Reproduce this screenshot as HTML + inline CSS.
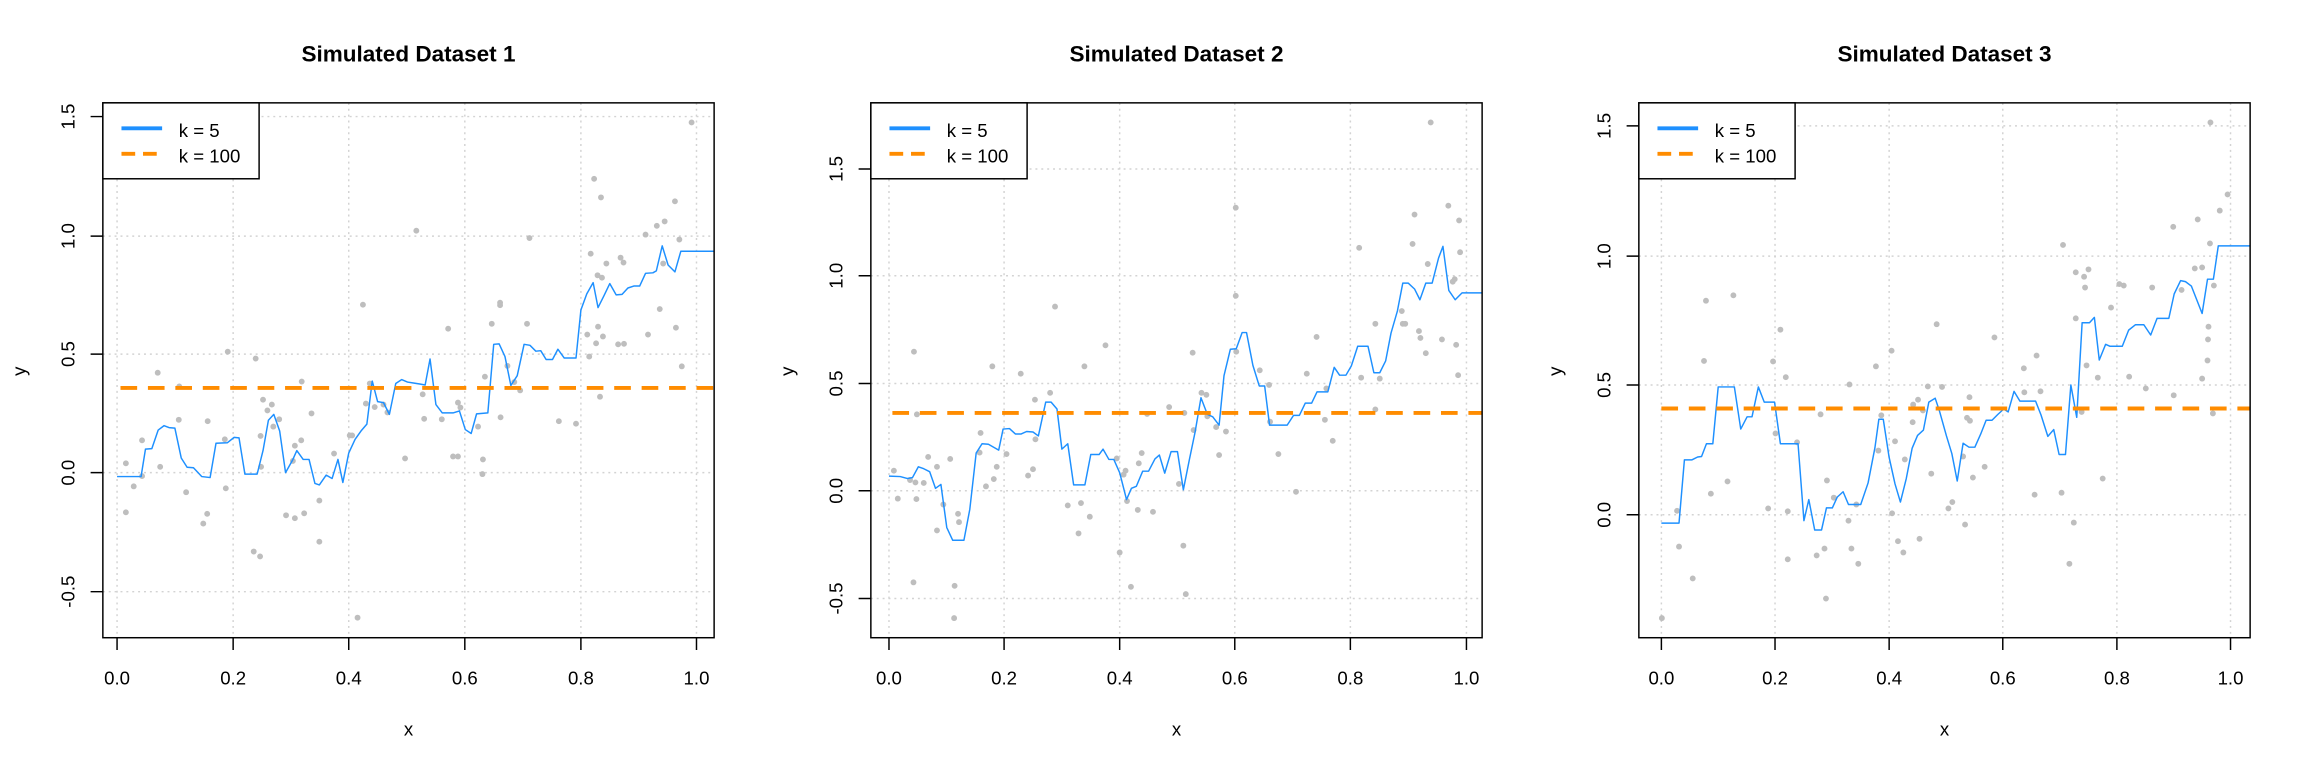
<!DOCTYPE html>
<html><head><meta charset="utf-8"><style>
html,body{margin:0;padding:0;background:#fff;width:2304px;height:768px;overflow:hidden}
svg{position:absolute;top:0}
text{font-family:"Liberation Sans",Arial,sans-serif;fill:#000}
.t{font-size:46px;font-weight:bold}
.k{font-size:38px}
.g{stroke:#d3d3d3;stroke-width:3;stroke-dasharray:4 8;fill:none}
.p{stroke:#bebebe;stroke-width:12;stroke-linecap:round;fill:none}
.b{stroke:#1e90ff;stroke-width:3;fill:none;stroke-linejoin:round}
.o{stroke:#ff8c00;stroke-width:8;stroke-dasharray:34 22;fill:none}
.ax{stroke:#000;stroke-width:3;fill:none}
</style></head><body>

<!-- Panel 1 -->
<svg style="left:0" width="768" height="768" viewBox="0 0 1568 1568">
<path class="g" d="M239 210V1302M476 210V1302M712 210V1302M949 210V1302M1186 210V1302M1422 210V1302M210 238H1458M210 482H1458M210 723H1458M210 965H1458M210 1208H1458"/>
<path class="p" d="M257 946h0M257 1046h0M273 993h0M290 899h0M290 972h0M322 761h0M327 953h0M365 857h0M366 789h0M380 1005h0M415 1069h0M423 1049h0M424 860h0M459 897h0M461 997h0M465 718h0M518 1126h0M522 732h0M531 1136h0M532 890h0M533 953h0M537 816h0M546 838h0M555 826h0M558 871h0M570 856h0M584 1052h0M598 941h0M602 1058h0M602 910h0M615 899h0M616 779h0M621 1048h0M636 844h0M652 1106h0M652 1022h0M682 926h0M714 889h0M719 889h0M730 1261h0M741 622h0M747 824h0M755 783h0M765 831h0M783 826h0M791 842h0M827 936h0M850 471h0M863 805h0M866 855h0M902 856h0M915 671h0M925 932h0M935 932h0M935 822h0M940 832h0M976 871h0M985 968h0M986 938h0M990 769h0M1004 661h0M1021 618h0M1021 623h0M1022 852h0M1036 747h0M1050 780h0M1062 797h0M1076 661h0M1081 486h0M1141 860h0M1176 865h0M1199 683h0M1203 728h0M1206 518h0M1213 365h0M1217 701h0M1220 562h0M1221 667h0M1225 810h0M1227 403h0M1229 567h0M1231 687h0M1238 538h0M1262 703h0M1267 526h0M1273 536h0M1274 702h0M1318 479h0M1323 683h0M1341 461h0M1347 631h0M1354 538h0M1357 452h0M1378 411h0M1380 669h0M1387 489h0M1392 748h0M1412 250h0"/>
<polyline class="b" points="239,973 288,973 297,917 310,916 323,878 335,869 345,873 357,874 370,935 382,954 395,955 412,973 429,975 441,905 464,904 478,893 488,894 500,968 525,968 537,920 548,858 559,846 571,880 583,965 597,940 606,920 619,938 631,938 643,987 652,990 666,970 678,977 690,938 700,985 712,925 725,897 737,880 749,866 760,778 771,820 783,822 795,846 808,783 820,775 832,780 844,782 857,784 868,786 878,733 890,826 903,843 925,843 938,839 950,877 962,885 973,845 996,843 1008,703 1019,702 1031,728 1043,787 1056,767 1070,703 1082,705 1094,717 1104,716 1115,734 1128,734 1139,713 1152,731 1176,731 1186,633 1198,600 1211,577 1221,628 1233,604 1245,579 1258,602 1270,601 1282,588 1294,584 1306,584 1318,558 1333,557 1340,553 1352,502 1364,541 1378,555 1390,513 1458,513"/>
<path class="o" d="M246 792H1458"/>
<rect class="ax" x="210" y="210" width="1248" height="1092"/>
<path class="ax" d="M239 1302V1327M476 1302V1327M712 1302V1327M949 1302V1327M1186 1302V1327M1422 1302V1327M210 238H185M210 482H185M210 723H185M210 965H185M210 1208H185"/>
<g class="k" text-anchor="middle"><text x="239" y="1398">0.0</text><text x="476" y="1398">0.2</text><text x="712" y="1398">0.4</text><text x="949" y="1398">0.6</text><text x="1186" y="1398">0.8</text><text x="1422" y="1398">1.0</text>
<text transform="translate(152,238) rotate(-90)">1.5</text><text transform="translate(152,482) rotate(-90)">1.0</text><text transform="translate(152,723) rotate(-90)">0.5</text><text transform="translate(152,965) rotate(-90)">0.0</text><text transform="translate(152,1208) rotate(-90)">-0.5</text>
<text x="834" y="1502">x</text><text transform="translate(52,758) rotate(-90)">y</text></g>
<text class="t" x="834" y="126" text-anchor="middle">Simulated Dataset 1</text>
<rect class="ax" x="210" y="210" width="319" height="155" style="fill:#fff"/>
<path d="M248 262H331" stroke="#1e90ff" stroke-width="8"/><path d="M248 314H331" stroke="#ff8c00" stroke-width="8" stroke-dasharray="28 16"/>
<text class="k" x="365" y="280">k = 5</text><text class="k" x="365" y="332">k = 100</text>
</svg>

<!-- Panel 2 -->
<svg style="left:768px" width="768" height="768" viewBox="0 0 1568 1568">
<path class="g" d="M247 210V1302M482 210V1302M718 210V1302M953 210V1302M1189 210V1302M1426 210V1302M210 345H1458M210 563H1458M210 783H1458M210 1002H1458M210 1222H1458"/>
<path class="p" d="M257 961h0M265 1018h0M290 980h0M298 718h0M301 985h0M303 1019h0M304 846h0M318 986h0M327 933h0M345 953h0M345 1083h0M358 1030h0M372 937h0M381 1196h0M380 1262h0M388 1049h0M390 1066h0M297 1189h0M432 924h0M434 884h0M445 993h0M458 748h0M461 978h0M467 953h0M487 927h0M516 763h0M531 971h0M541 958h0M545 816h0M546 897h0M576 802h0M586 626h0M612 1032h0M634 1089h0M639 1027h0M646 748h0M657 1055h0M689 705h0M712 936h0M718 1128h0M726 969h0M730 961h0M733 1023h0M741 1198h0M755 1041h0M757 946h0M763 925h0M774 845h0M786 1045h0M819 831h0M839 988h0M848 1114h0M850 843h0M853 1213h0M867 720h0M869 878h0M885 802h0M895 806h0M897 850h0M915 872h0M921 929h0M935 881h0M955 424h0M955 604h0M956 718h0M1004 756h0M1023 786h0M1025 861h0M1042 927h0M1078 1004h0M1100 763h0M1120 688h0M1137 857h0M1140 793h0M1153 900h0M1207 506h0M1211 771h0M1240 661h0M1240 836h0M1249 773h0M1294 635h0M1296 661h0M1301 661h0M1316 498h0M1320 438h0M1329 676h0M1332 690h0M1343 721h0M1347 539h0M1353 250h0M1376 693h0M1389 420h0M1398 575h0M1402 570h0M1405 704h0M1409 766h0M1411 450h0M1413 515h0"/>
<polyline class="b" points="247,972 270,973 285,977 295,975 307,953 318,957 330,963 342,997 353,989 365,1077 377,1103 400,1103 412,1040 425,925 437,906 450,907 471,919 480,876 493,875 505,886 517,886 528,881 541,882 552,890 567,821 578,821 590,835 600,917 612,906 624,990 647,990 659,928 676,928 684,917 696,938 706,938 718,965 732,1020 742,997 752,993 765,962 777,962 790,937 799,929 810,966 823,922 836,922 848,1000 860,940 872,882 884,812 897,846 908,851 921,868 931,767 944,713 956,712 968,679 977,679 990,746 1003,788 1014,788 1024,868 1060,868 1073,848 1085,848 1097,823 1110,823 1121,800 1143,800 1156,750 1167,766 1180,766 1191,747 1204,707 1225,707 1237,761 1249,761 1261,737 1272,680 1285,635 1296,578 1307,578 1320,590 1331,612 1343,578 1356,578 1369,527 1378,503 1390,593 1403,612 1417,598 1458,598"/>
<path class="o" d="M254 843H1458"/>
<rect class="ax" x="210" y="210" width="1248" height="1092"/>
<path class="ax" d="M247 1302V1327M482 1302V1327M718 1302V1327M953 1302V1327M1189 1302V1327M1426 1302V1327M210 345H185M210 563H185M210 783H185M210 1002H185M210 1222H185"/>
<g class="k" text-anchor="middle"><text x="247" y="1398">0.0</text><text x="482" y="1398">0.2</text><text x="718" y="1398">0.4</text><text x="953" y="1398">0.6</text><text x="1189" y="1398">0.8</text><text x="1426" y="1398">1.0</text>
<text transform="translate(152,345) rotate(-90)">1.5</text><text transform="translate(152,563) rotate(-90)">1.0</text><text transform="translate(152,783) rotate(-90)">0.5</text><text transform="translate(152,1002) rotate(-90)">0.0</text><text transform="translate(152,1222) rotate(-90)">-0.5</text>
<text x="834" y="1502">x</text><text transform="translate(52,758) rotate(-90)">y</text></g>
<text class="t" x="834" y="126" text-anchor="middle">Simulated Dataset 2</text>
<rect class="ax" x="210" y="210" width="319" height="155" style="fill:#fff"/>
<path d="M248 262H331" stroke="#1e90ff" stroke-width="8"/><path d="M248 314H331" stroke="#ff8c00" stroke-width="8" stroke-dasharray="28 16"/>
<text class="k" x="365" y="280">k = 5</text><text class="k" x="365" y="332">k = 100</text>
</svg>

<!-- Panel 3 -->
<svg style="left:1536px" width="768" height="768" viewBox="0 0 1568 1568">
<path class="g" d="M256 210V1302M488 210V1302M721 210V1302M953 210V1302M1186 210V1302M1418 210V1302M210 257H1458M210 523H1458M210 786H1458M210 1051H1458"/>
<path class="p" d="M257 1262h0M288 1043h0M292 1116h0M320 1181h0M343 737h0M347 614h0M357 1008h0M391 983h0M403 603h0M474 1038h0M484 738h0M489 885h0M499 673h0M510 770h0M514 1044h0M514 1142h0M533 903h0M573 1134h0M581 846h0M589 1120h0M592 1222h0M594 981h0M608 1016h0M638 1063h0M640 785h0M644 1120h0M654 1030h0M658 1151h0M694 748h0M699 920h0M705 848h0M726 716h0M727 1048h0M733 901h0M739 1105h0M750 1128h0M753 938h0M769 862h0M770 826h0M780 816h0M783 1100h0M790 838h0M800 789h0M807 967h0M818 662h0M829 790h0M842 1038h0M850 1025h0M872 932h0M876 1071h0M880 853h0M885 811h0M886 859h0M892 975h0M916 953h0M936 689h0M996 752h0M997 801h0M1018 1010h0M1022 726h0M1030 799h0M1073 1006h0M1076 500h0M1089 1151h0M1098 1067h0M1102 556h0M1102 650h0M1114 841h0M1119 565h0M1121 587h0M1124 746h0M1128 550h0M1147 771h0M1157 977h0M1174 628h0M1191 580h0M1200 583h0M1211 769h0M1245 793h0M1258 587h0M1301 463h0M1302 807h0M1318 592h0M1345 548h0M1351 448h0M1360 546h0M1360 773h0M1371 736h0M1372 693h0M1373 667h0M1376 497h0M1377 250h0M1382 844h0M1384 583h0M1396 430h0M1412 397h0"/>
<polyline class="b" points="256,1068 292,1068 303,939 318,939 330,933 338,932 348,906 361,906 372,790 405,790 418,876 431,851 441,851 454,790 466,821 487,821 499,906 535,906 547,1063 557,1020 569,1082 583,1082 593,1037 605,1037 615,1015 627,1004 638,1030 663,1030 678,986 692,914 700,856 709,856 721,934 733,988 744,1025 756,977 768,915 779,889 791,878 802,821 815,813 824,840 838,890 849,926 860,982 872,905 884,913 896,913 908,886 919,858 931,858 943,846 955,835 964,841 976,799 988,819 1020,819 1031,847 1045,891 1057,877 1068,928 1081,928 1092,786 1104,852 1115,659 1130,659 1140,648 1150,735 1163,703 1172,707 1197,707 1210,674 1224,663 1241,663 1255,684 1268,650 1292,650 1303,600 1316,573 1326,575 1338,584 1349,612 1360,640 1371,570 1383,570 1393,502 1458,502"/>
<path class="o" d="M256 834H1458"/>
<rect class="ax" x="210" y="210" width="1248" height="1092"/>
<path class="ax" d="M256 1302V1327M488 1302V1327M721 1302V1327M953 1302V1327M1186 1302V1327M1418 1302V1327M210 257H185M210 523H185M210 786H185M210 1051H185"/>
<g class="k" text-anchor="middle"><text x="256" y="1398">0.0</text><text x="488" y="1398">0.2</text><text x="721" y="1398">0.4</text><text x="953" y="1398">0.6</text><text x="1186" y="1398">0.8</text><text x="1418" y="1398">1.0</text>
<text transform="translate(152,257) rotate(-90)">1.5</text><text transform="translate(152,523) rotate(-90)">1.0</text><text transform="translate(152,786) rotate(-90)">0.5</text><text transform="translate(152,1051) rotate(-90)">0.0</text>
<text x="834" y="1502">x</text><text transform="translate(52,758) rotate(-90)">y</text></g>
<text class="t" x="834" y="126" text-anchor="middle">Simulated Dataset 3</text>
<rect class="ax" x="210" y="210" width="319" height="155" style="fill:#fff"/>
<path d="M248 262H331" stroke="#1e90ff" stroke-width="8"/><path d="M248 314H331" stroke="#ff8c00" stroke-width="8" stroke-dasharray="28 16"/>
<text class="k" x="365" y="280">k = 5</text><text class="k" x="365" y="332">k = 100</text>
</svg>
</body></html>
